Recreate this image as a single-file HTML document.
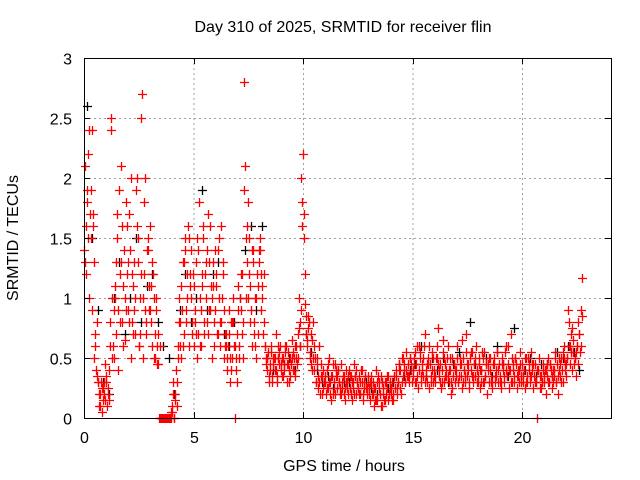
<!DOCTYPE html>
<html><head><meta charset="utf-8"><style>
body{margin:0;background:#fff;}
svg{display:block;font-family:"Liberation Sans",sans-serif;}
</style></head><body>
<svg id="chart" width="640" height="480" viewBox="0 0 640 480"></svg>
<script>
const xTicks=[0,5,10,15,20];
const yTicks=[0,0.5,1,1.5,2,2.5,3];
const yTickLabels=["0","0.5","1","1.5","2","2.5","3"];
const redA=[
1.4,2.1,1.2,1.8,1.5,1.0,1.9,2.4,1.6,1.3,0.6,0.4,0.8,0.3,0.1,0.2,0.05,0.25,0.3,0.15,
0.35,0.1,0.2,0.4,0.6,2.5,0.5,0.9,1.1,0.7,1.5,0.4,1.9,0.8,1.3,1.6,0.6,1.0,1.8,1.2,
0.9,1.7,1.4,0.5,0.8,1.1,1.3,0.7,2.0,1.5,0.6,1.0,1.2,2.7,0.5,1.8,0.9,0.7,1.4,1.1,
1.6,0.8,0.6,1.2,1.0,0.5,0.9,0.45,0.7,0.6,0.0,0.0,0.0,0.0,0.0,0.0,0.0,0.0,0.0,0.0,
0.05,0.3,0.0,0.2,0.4,0.1,0.6,1.0,0.8,0.5,1.3,0.7,1.5,0.9,1.2,1.6,0.6,1.1,1.4,0.8,
0.6,0.9,1.3,0.5,0.7,1.8,1.0,0.6,1.2,1.5,0.8,1.0,1.4,0.7,0.9,1.6,1.1,0.5,1.3,0.8,
0.9,1.2,0.7,1.5,0.6,0.8,1.0,1.3,0.5,0.7,0.6,0.4,0.9,0.3,0.8,0.5,1.0,0.6,0.0,0.4,
0.7,1.1,0.6,0.9,1.2,0.5,2.8,2.1,1.0,1.3,1.8,1.5,1.1,0.6,1.4,0.8,1.0,0.5,1.2,0.7,
1.3,1.4,0.9,1.0,1.2,0.6,0.5,0.4,0.55,0.3,0.45,0.6,0.35,0.5,0.4,0.7,0.3,0.5,0.45,0.6,
0.4,0.35,0.5,0.45,0.6,0.3,0.55,0.4,0.5,0.45,0.65,0.4,0.5,0.35,0.6,0.5,0.75,0.8,0.9,1.8,
2.2,1.5,0.95,0.7,0.6,0.85,0.5,0.7,0.4,0.8,0.6,0.5,0.3,0.45,0.25,0.6,0.35,0.2,0.4,0.3,
0.35,0.2,0.4,0.25,0.5,0.3,0.15,0.45,0.3,0.2,0.35,0.25,0.4,0.3,0.2,0.45,0.25,0.35,0.15,0.3,
0.3,0.2,0.4,0.25,0.35,0.15,0.3,0.45,0.2,0.3,0.25,0.35,0.2,0.4,0.3,0.15,0.25,0.35,0.2,0.3,
0.25,0.15,0.35,0.2,0.3,0.1,0.25,0.4,0.15,0.3,0.2,0.35,0.1,0.25,0.15,0.3,0.2,0.35,0.15,0.25,
0.2,0.3,0.15,0.35,0.25,0.4,0.2,0.3,0.45,0.25,0.5,0.35,0.4,0.3,0.55,0.35,0.45,0.3,0.5,0.4,
0.35,0.5,0.3,0.45,0.6,0.25,0.4,0.55,0.3,0.45,0.35,0.7,0.4,0.3,0.5,0.25,0.45,0.35,0.55,0.3,
0.4,0.3,0.5,0.75,0.35,0.45,0.25,0.4,0.55,0.3,0.45,0.35,0.6,0.3,0.4,0.2,0.5,0.35,0.45,0.3,
0.4,0.6,0.3,0.45,0.35,0.25,0.5,0.4,0.3,0.7,0.35,0.45,0.25,0.4,0.55,0.3,0.45,0.35,0.6,0.3,
0.35,0.5,0.25,0.4,0.3,0.55,0.35,0.45,0.2,0.4,0.3,0.5,0.35,0.25,0.45,0.3,0.4,0.55,0.3,0.45,
0.35,0.25,0.5,0.4,0.3,0.6,0.35,0.45,0.25,0.4,0.7,0.3,0.45,0.35,0.5,0.25,0.4,0.3,0.55,0.35,
0.45,0.3,0.4,0.25,0.5,0.35,0.45,0.3,0.55,0.4,0.25,0.35,0.45,0.3,0.0,0.4,0.25,0.35,0.3,0.45,
0.3,0.4,0.2,0.35,0.5,0.3,0.45,0.25,0.4,0.35,0.55,0.3,0.45,0.2,0.4,0.35,0.5,0.3,0.6,0.4,
0.35,0.5,0.9,0.6,0.45,0.7,0.4,0.55,0.5,0.35,0.6,0.45,0.7,0.55,0.9,1.17];
const redB=[
1.3,1.9,2.4,1.5,1.7,0.7,0.3,0.1,0.25,0.2,
0.3,0.15,2.4,0.6,1.0,1.7,1.2,0.8,1.4,0.9,
1.3,2.0,0.7,1.0,1.6,0.6,2.5,1.2,0.8,1.5,
0.9,1.3,0.7,0.6,0.0,0.0,0.0,0.0,0.0,0.0,
0.1,0.0,0.3,0.8,1.1,0.6,1.4,1.0,1.2,0.7,
1.1,0.7,1.4,0.9,1.6,1.2,0.8,1.3,1.0,0.6,
1.1,1.4,0.8,1.2,0.6,0.5,0.7,0.4,0.8,0.5,
0.9,1.0,0.7,1.9,1.6,1.2,0.9,1.3,0.6,1.1,
1.5,1.1,0.8,0.45,0.35,0.55,0.45,0.5,0.35,0.55,
0.5,0.4,0.6,0.45,0.35,0.55,0.6,0.45,1.0,2.0,
1.7,0.85,0.75,0.55,0.65,0.4,0.5,0.3,0.45,0.25,
0.3,0.45,0.2,0.35,0.25,0.4,0.3,0.2,0.35,0.25,
0.25,0.35,0.3,0.2,0.4,0.25,0.3,0.2,0.35,0.25,
0.2,0.3,0.25,0.15,0.35,0.2,0.3,0.15,0.25,0.2,
0.25,0.2,0.35,0.3,0.4,0.3,0.45,0.4,0.35,0.45,
0.4,0.55,0.35,0.5,0.4,0.6,0.35,0.45,0.3,0.5,
0.35,0.6,0.4,0.3,0.5,0.4,0.35,0.5,0.25,0.4,
0.5,0.35,0.45,0.3,0.55,0.4,0.5,0.35,0.45,0.4,
0.45,0.3,0.5,0.35,0.45,0.4,0.3,0.5,0.35,0.4,
0.3,0.45,0.55,0.35,0.4,0.5,0.3,0.45,0.35,0.45,
0.35,0.5,0.3,0.4,0.35,0.45,0.3,0.4,0.35,0.3,
0.35,0.45,0.3,0.4,0.3,0.5,0.35,0.45,0.4,0.5,
0.45,0.8,0.55,0.65,0.5,0.6,0.7,0.85];
const redC=[
1.6,2.2,1.7,0.9,0.5,0.35,0.2,0.3,0.15,0.45,
0.25,0.8,1.0,0.5,1.3,0.9,2.1,1.1,0.65,1.6,
0.8,1.2,0.9,1.9,1.3,0.7,1.0,2.0,1.4,0.9,
1.1,0.5,1.0,0.45,0.0,0.0,0.0,0.0,0.0,0.05,
0.2,0.15,0.5,0.6,0.9,1.3,0.8,1.5,1.0,1.2,
0.8,1.5,0.6,1.1,0.7,1.3,1.7,0.9,1.1,1.4,
0.7,1.0,1.6,0.9,0.7,0.6,0.5,0.8,0.6,0.3,
0.5,1.2,0.8,1.5,1.0,0.8,1.4,0.7,1.0,1.4,
1.2,0.7,0.6,0.5,0.4,0.3,0.5,0.4,0.6,0.45,
0.35,0.55,0.45,0.3,0.5,0.4,0.5,0.7,0.6,1.6,
1.2,0.65,0.8,0.45,0.5,0.3,0.35,0.2,0.35,0.3,
0.25,0.3,0.35,0.2,0.45,0.35,0.25,0.3,0.2,0.4,
0.35,0.2,0.25,0.35,0.3,0.2,0.4,0.3,0.25,0.35,
0.3,0.2,0.15,0.3,0.25,0.1,0.2,0.3,0.35,0.3,
0.15,0.35,0.25,0.4,0.2,0.5,0.3,0.35,0.5,0.3,
0.45,0.3,0.6,0.35,0.5,0.3,0.45,0.6,0.4,0.35,
0.5,0.45,0.3,0.65,0.35,0.5,0.4,0.3,0.45,0.35,
0.3,0.5,0.65,0.35,0.45,0.3,0.55,0.35,0.5,0.3,
0.4,0.55,0.3,0.45,0.5,0.3,0.45,0.35,0.55,0.3,
0.45,0.35,0.4,0.6,0.3,0.4,0.5,0.35,0.4,0.3,
0.4,0.3,0.5,0.35,0.45,0.3,0.4,0.5,0.25,0.4,
0.4,0.3,0.45,0.35,0.4,0.3,0.5,0.3,0.55,0.45,
0.5,0.6,0.75,0.45,0.55,0.8,0.6];
const blackC=[
2.6,1.5,0.9,0.3, 0.2,1.0,1.3,0.7, 1.0,1.5,0.8,1.1, 1.2,0.8,0.6,0.5,
0.2,0.9,1.2,0.8, 1.0,1.9,0.9,1.2, 1.3,0.7,0.6,0.8, 1.0,1.4,1.6,0.9,
1.6,0.5,0.4,0.5, 0.45,0.5,0.4,0.6, 0.7,0.55,0.4,0.3, 0.35,0.25,0.4,0.3,
0.3,0.35,0.2,0.3, 0.25,0.2,0.3,0.25, 0.3,0.45,0.35,0.4, 0.45,0.6,0.35,0.5,
0.4,0.5,0.3,0.45, 0.55,0.4,0.8,0.45, 0.4,0.5,0.35,0.6, 0.45,0.35,0.75,0.4,
0.4,0.5,0.35,0.45, 0.45,0.35,0.55,0.5, 0.6,0.55,0.4];

const NS="http://www.w3.org/2000/svg";
const svg=document.getElementById('chart');
const L=84,R=611,T=58,B=418;
const xS=h=>L+h*(522-84)/20;
const yS=v=>B-v*(B-T)/3;
function mk(tag,attrs,parent){const e=document.createElementNS(NS,tag);for(const k in attrs)e.setAttribute(k,attrs[k]);(parent||svg).appendChild(e);return e;}

const grid=mk('g',{});


xTicks.forEach(t=>{if(t>0)mk('line',{x1:xS(t)+0.5,x2:xS(t)+0.5,y1:T,y2:B,stroke:'#a0a0a0','stroke-dasharray':'2,3','stroke-width':1},grid);});
yTicks.forEach(t=>{if(t>0&&t<3)mk('line',{x1:L,x2:R,y1:yS(t)+0.5,y2:yS(t)+0.5,stroke:'#a0a0a0','stroke-dasharray':'2,3','stroke-width':1},grid);});

function drawSeries(vals,step,off,color,name){
  const g=mk('g',{stroke:color,'stroke-width':1.3,fill:'none'});
  
  
  vals.forEach((v,i)=>{
    const x=Math.round(xS(off+i*step))+0.5,y=Math.round(yS(v))+0.5;
    const p=mk('path',{d:`M${x-4.5},${y}H${x+4.5}M${x},${y-4.5}V${y+4.5}`},g);
    
    
  });
}
drawSeries(blackC,0.25,0.12,'#000','black-series');
drawSeries(redA,0.05,0.0,'#ff0000','red-series-a');
drawSeries(redB,0.1,0.025,'#ff0000','red-series-b');
drawSeries(redC,0.1,0.075,'#ff0000','red-series-c');

const ax=mk('g',{stroke:'#000','stroke-width':1});


mk('rect',{x:L+0.5,y:T+0.5,width:R-L,height:B-T,fill:'none'},ax);
xTicks.forEach((t,i)=>{const x=Math.round(xS(t))+0.5;
  mk('line',{x1:x,x2:x,y1:B,y2:B-6},ax);mk('line',{x1:x,x2:x,y1:T,y2:T+6},ax);
  const tx=mk('text',{x:x,y:B+25,'text-anchor':'middle','font-size':16,fill:'#000',stroke:'none'});
  
  
  tx.textContent=String(t);});
yTicks.forEach((t,i)=>{const y=Math.round(yS(t))+0.5;
  mk('line',{x1:L,x2:L+6,y1:y,y2:y},ax);mk('line',{x1:R,x2:R-6,y1:y,y2:y},ax);
  const tx=mk('text',{x:L-12,y:y+6,'text-anchor':'end','font-size':16,fill:'#000',stroke:'none'});
  
  
  tx.textContent=yTickLabels[i];});

const title=mk('text',{x:343,y:32,'text-anchor':'middle','font-size':16,fill:'#000'});


title.textContent='Day 310 of 2025, SRMTID for receiver flin';
const xl=mk('text',{x:344,y:471,'text-anchor':'middle','font-size':16,fill:'#000'});


xl.textContent='GPS time / hours';
const yl=mk('text',{x:0,y:0,'text-anchor':'middle','font-size':16,fill:'#000',transform:'translate(18,238) rotate(-90)'});


yl.textContent='SRMTID / TECUs';
</script>
</body></html>
